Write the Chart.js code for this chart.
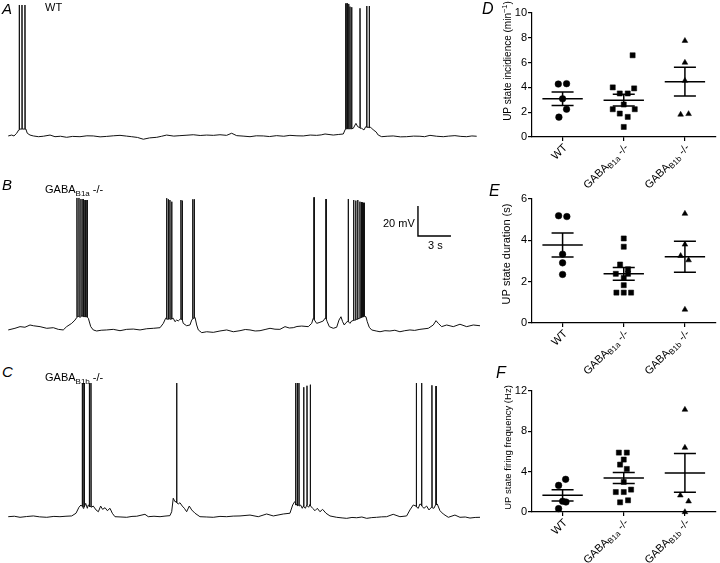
<!DOCTYPE html>
<html>
<head>
<meta charset="utf-8">
<script src="https://cdn.jsdelivr.net/npm/chart.js@4.4.1/dist/chart.umd.min.js"></script>
<style>
  body { margin: 0; background: #fff; }
  #fig { position: relative; width: 720px; height: 563px; overflow: hidden; font-family: "Liberation Sans", Arial, Helvetica, sans-serif; color: #000; }
  #fig canvas { position: absolute; }
  .lbl { position: absolute; line-height: 1; white-space: nowrap; font-size: 11px; }
  .pan { position: absolute; line-height: 1; font-style: italic; }
  .lbl sub { font-size: 8px; vertical-align: -3px; line-height: 0; }
</style>
</head>
<body>
<div id="fig">
  <canvas id="traceA" width="480" height="170" style="left:0;top:0"></canvas>
  <canvas id="traceB" width="480" height="170" style="left:0;top:191px"></canvas>
  <canvas id="traceC" width="480" height="170" style="left:0;top:380px"></canvas>
  <canvas id="incChart" width="240" height="192" style="left:480px;top:0"></canvas>
  <canvas id="durChart" width="240" height="195" style="left:480px;top:185px"></canvas>
  <canvas id="freqChart" width="240" height="188" style="left:480px;top:375px"></canvas>

  <div class="pan" style="left:2px;top:1px;font-size:15px">A</div>
  <div class="lbl" style="left:45px;top:2px">WT</div>
  <div class="pan" style="left:2px;top:177px;font-size:15px">B</div>
  <div class="lbl" style="left:45px;top:184px">GABA<sub>B1a</sub> -/-</div>
  <div class="pan" style="left:2px;top:364px;font-size:15px">C</div>
  <div class="lbl" style="left:45px;top:372px">GABA<sub>B1b</sub> -/-</div>
  <div class="lbl" style="left:383px;top:218px">20 mV</div>
  <div class="lbl" style="left:428px;top:240px">3 s</div>

  <div class="pan" style="left:482px;top:1px;font-size:16px">D</div>
  <div class="pan" style="left:489px;top:183px;font-size:16px">E</div>
  <div class="pan" style="left:496px;top:365px;font-size:16px">F</div>
</div>

<script>
// membrane potential traces: [time (s), Vm (mV)]
const traceWT = [
  [0.75,-69.3],[1.06,-68.7],[1.27,-69.3],[1.52,-67.5],[1.70,-65.3],
  [1.74,-65.3],[1.75,18.0],[1.77,-64.7],
  [1.99,-64.7],[2.00,18.0],[2.02,-64.7],
  [2.26,-64.7],[2.27,18.0],[2.29,-64.7],
  [2.36,-64.9],[2.48,-67.5],[2.73,-68.7],[3.03,-69.3],[3.50,-69.8],[3.94,-69.5],[4.55,-68.7],[5.00,-69.8],[5.50,-69.5],[6.06,-70.2],
  [6.60,-69.6],[7.27,-69.8],[7.90,-69.2],[8.48,-69.3],[9.10,-69.9],[9.70,-69.6],[10.30,-69.2],[10.91,-68.9],[11.50,-69.4],
  [11.97,-69.8],[12.50,-70.3],[13.03,-71.5],[13.60,-70.6],[14.25,-70.2],[14.70,-69.5],[15.15,-68.7],[15.80,-69.4],
  [16.36,-69.1],[17.00,-68.8],[17.57,-68.5],[18.20,-69.0],[18.79,-68.7],[19.40,-68.9],[20.00,-68.5],[20.60,-68.9],
  [21.06,-67.5],[21.52,-69.1],[22.10,-69.4],[22.73,-69.8],[23.30,-69.2],[23.94,-69.3],[24.50,-69.7],
  [25.15,-69.1],[25.80,-69.5],[26.36,-68.9],[27.00,-69.2],[27.57,-69.3],[28.20,-68.7],[28.79,-68.9],[29.20,-68.6],
  [29.55,-68.0],[30.30,-68.7],[30.80,-68.3],[31.21,-68.0],[31.39,-64.9],
  [31.42,-64.9],[31.43,19.1],[31.45,-64.5],
  [31.54,-64.5],[31.55,19.1],[31.57,-64.5],
  [31.69,-64.5],[31.70,18.7],[31.72,-64.5],
  [31.81,-64.5],[31.82,16.9],[31.84,-64.5],
  [31.96,-64.5],[31.97,16.5],[31.99,-64.5],
  [32.12,-64.2],[32.36,-60.9],[32.52,-63.1],
  [32.72,-63.8],[32.73,15.8],[32.75,-64.2],
  [32.88,-64.2],[33.09,-65.3],[33.25,-63.1],
  [33.33,-63.1],[33.34,17.3],[33.36,-63.5],
  [33.56,-63.5],[33.57,17.3],[33.59,-63.8],
  [33.70,-63.5],[33.94,-65.3],[34.18,-66.5],[34.39,-68.7],[34.70,-69.8],[35.20,-69.5],[35.75,-69.3],[36.40,-69.9],
  [36.97,-69.8],[37.60,-69.4],[38.18,-69.5],[38.60,-69.8],[39.09,-68.9],[39.70,-69.5],[40.30,-69.8],[40.80,-69.4],
  [41.36,-69.1],[41.90,-69.6],[42.43,-69.8],[42.90,-69.3],[43.34,-69.5]
];

const traceB1a = [
  [0.75,-71.3],[1.36,-70.2],[1.82,-69.1],[2.27,-69.5],[2.73,-68.0],[3.03,-68.5],[3.64,-69.1],[4.25,-70.2],
  [4.85,-69.8],[5.30,-70.9],[5.75,-71.3],[6.06,-69.1],[6.52,-66.9],[6.82,-64.7],[6.97,-63.1],
  [6.99,-62.5],[7.00,16.7],[7.02,-62.5],
  [7.17,-62.2],[7.18,16.7],[7.20,-62.7],
  [7.35,-62.7],[7.36,16.0],[7.38,-62.0],
  [7.54,-62.0],[7.55,16.0],[7.57,-62.4],
  [7.72,-62.4],[7.73,15.3],[7.75,-62.5],
  [7.90,-62.5],[7.91,15.3],[7.93,-62.7],
  [8.03,-63.5],[8.25,-69.1],[8.48,-71.3],[8.79,-72.0],[9.20,-71.5],[9.70,-71.3],[10.30,-70.9],[10.91,-71.8],[11.52,-70.9],
  [12.12,-70.7],[12.73,-71.3],[13.34,-70.5],[13.94,-70.2],[14.55,-69.8],[14.85,-66.9],[15.06,-63.5],
  [15.14,-64.0],[15.15,16.5],[15.17,-64.0],
  [15.29,-64.2],[15.30,15.8],[15.32,-64.0],
  [15.44,-63.8],[15.45,15.3],[15.47,-64.2],
  [15.60,-64.0],[15.61,14.2],[15.63,-64.0],
  [15.75,-63.5],[15.91,-65.8],[16.06,-64.7],[16.21,-65.3],[16.36,-64.2],
  [16.44,-64.0],[16.45,15.3],[16.47,-64.2],
  [16.56,-64.2],[16.57,14.9],[16.59,-64.7],
  [16.66,-66.9],[16.97,-68.5],[17.27,-68.0],[17.43,-64.7],
  [17.51,-64.0],[17.52,15.8],[17.54,-63.5],
  [17.65,-63.5],[17.66,15.8],[17.68,-63.0],
  [17.73,-62.9],[17.88,-68.0],[18.03,-71.3],[18.34,-73.1],[18.79,-72.5],[19.39,-72.9],[20.00,-72.0],[20.61,-71.3],
  [21.21,-72.5],[21.82,-71.8],[22.30,-71.0],[22.73,-71.3],[23.20,-72.0],[23.64,-71.8],[24.10,-71.0],[24.55,-70.2],
  [25.00,-70.8],[25.45,-70.9],[25.91,-69.1],[26.30,-70.0],[26.66,-69.8],
  [27.00,-69.0],[27.43,-68.7],[28.03,-69.1],[28.34,-66.9],[28.48,-63.5],
  [28.54,-63.3],[28.55,17.1],[28.57,-64.5],
  [28.79,-66.9],[29.09,-66.2],[29.39,-65.3],[29.55,-63.5],
  [29.63,-63.3],[29.64,16.0],[29.66,-64.0],
  [29.75,-65.8],[29.94,-69.1],[30.30,-70.2],[30.61,-69.5],[30.82,-64.7],[31.00,-62.5],[31.15,-65.8],[31.30,-68.0],
  [31.45,-66.5],[31.57,-65.8],
  [31.65,-65.5],[31.66,16.0],[31.68,-65.8],
  [31.82,-66.9],[31.97,-65.3],
  [32.14,-65.0],[32.15,15.3],[32.17,-65.0],
  [32.25,-64.7],
  [32.33,-64.7],[32.34,14.9],[32.36,-64.5],
  [32.43,-64.2],
  [32.51,-64.2],[32.52,15.3],[32.54,-64.0],
  [32.64,-63.5],
  [32.72,-63.3],[32.73,14.2],[32.75,-63.3],
  [32.84,-63.0],[32.85,14.0],[32.87,-63.0],
  [32.93,-62.7],[32.94,13.8],[32.96,-62.7],
  [33.02,-62.5],[33.03,13.5],[33.05,-62.5],
  [33.11,-62.2],[33.12,13.5],[33.14,-62.2],
  [33.27,-62.5],[33.39,-65.8],[33.57,-69.5],[33.79,-71.3],[34.20,-72.0],[34.55,-72.5],[35.00,-71.8],[35.45,-72.0],
  [35.90,-71.5],[36.36,-72.5],[36.80,-71.8],[37.27,-71.3],
  [37.70,-71.6],[38.18,-70.9],[38.94,-70.2],[39.39,-68.0],[39.64,-65.1],[39.85,-66.9],[40.15,-69.1],[40.61,-68.0],[41.21,-69.1],
  [41.82,-67.5],[42.43,-69.1],[43.03,-68.0],[43.64,-68.5]
];

const traceB1b = [
  [0.75,-69.8],[1.30,-69.5],[1.82,-70.2],[2.40,-69.7],[3.03,-69.3],[3.60,-69.9],[4.25,-70.2],[4.90,-69.6],[5.45,-69.8],
  [6.00,-69.5],[6.52,-69.3],[6.91,-67.5],[7.18,-63.5],[7.36,-62.0],
  [7.47,-63.0],[7.48,19.3],[7.50,-62.0],
  [7.57,-64.2],
  [7.63,-62.5],[7.64,19.3],[7.66,-63.3],
  [7.79,-60.9],[7.94,-64.2],[8.03,-62.0],
  [8.11,-62.5],[8.12,19.3],[8.14,-63.0],
  [8.26,-63.0],[8.27,19.3],[8.29,-63.5],
  [8.48,-62.7],[8.73,-65.3],[8.94,-66.5],[9.15,-62.7],[9.33,-64.9],[9.55,-63.8],[9.76,-65.8],[10.00,-64.2],
  [10.21,-67.5],[10.45,-69.8],[11.00,-70.0],[11.52,-70.2],[12.00,-69.6],[12.43,-69.5],[13.18,-68.2],[13.48,-69.8],
  [14.00,-69.5],[14.55,-69.8],[15.00,-69.4],[15.45,-69.1],
  [15.61,-66.5],[15.75,-57.5],[15.91,-59.8],
  [16.05,-59.8],[16.06,19.3],[16.08,-60.5],
  [16.21,-61.3],[16.36,-60.5],[16.57,-62.7],[16.76,-64.2],[16.97,-66.5],[17.21,-62.7],[17.43,-65.3],[17.73,-67.5],
  [18.18,-69.8],[18.80,-70.0],[19.39,-70.2],[20.00,-69.6],[20.61,-69.8],[21.20,-69.4],[21.82,-69.3],[22.73,-68.7],
  [23.48,-69.8],[24.24,-68.0],[24.85,-69.3],
  [25.76,-68.0],[26.36,-67.5],[26.61,-62.0],[26.79,-59.8],
  [26.87,-60.5],[26.88,19.3],[26.90,-62.0],
  [27.02,-61.5],[27.03,19.3],[27.05,-62.5],
  [27.17,-62.0],[27.18,19.3],[27.20,-62.7],
  [27.33,-62.0],[27.48,-64.2],
  [27.60,-62.5],[27.61,16.5],[27.63,-63.0],
  [27.76,-64.2],
  [27.90,-62.0],[27.91,17.5],[27.93,-62.5],
  [28.06,-63.5],
  [28.20,-61.5],[28.21,18.2],[28.23,-62.5],
  [28.42,-64.2],[28.64,-65.8],[28.85,-64.2],[29.09,-66.5],[29.33,-64.9],[29.64,-67.5],[30.00,-69.3],[30.61,-70.2],
  [31.10,-70.6],[31.52,-70.9],[32.00,-70.3],[32.43,-70.5],[32.90,-70.0],[33.34,-70.9],[33.80,-70.4],[34.24,-70.2],
  [34.70,-69.9],[35.15,-69.8],[35.75,-68.2],[36.36,-69.8],[36.97,-69.3],
  [37.27,-65.3],[37.57,-62.0],
  [37.84,-62.7],[37.85,19.3],[37.87,-63.3],
  [38.03,-64.2],[38.18,-61.3],
  [38.32,-62.0],[38.33,19.3],[38.35,-62.7],
  [38.55,-64.2],[38.79,-62.7],[39.00,-65.3],
  [39.26,-63.3],[39.27,17.8],[39.29,-63.8],
  [39.45,-64.2],
  [39.63,-61.5],[39.64,17.3],[39.66,-62.0],
  [39.75,-61.3],[40.00,-65.8],[40.30,-68.0],[40.76,-70.2],[41.36,-68.7],[41.82,-70.2],[42.30,-70.0],[42.73,-70.7],
  [43.20,-70.3],[43.64,-70.2]
];

// scale bar: 20 mV / 3 s
const scaleBarT = [38, 38, 41];
const scaleBarV = [11.3, -8.7, -8.7];

// group summary panels
const groupLabels = [['WT', '', ''], ['GABA', 'B1a', ' -/-'], ['GABA', 'B1b', ' -/-']];
const groupMarkers = ['circle', 'rect', 'triangle'];

const incidence = [
  [4.27, 4.30, 3.08, 2.24, 1.60],
  [6.59, 4.00, 3.51, 3.51, 3.92, 2.62, 2.24, 2.24, 1.89, 1.62, 0.81],
  [7.76, 6.00, 4.54, 1.81, 1.86]
];
const incidenceSpread = [
  [-0.07, 0.065, 0, 0.065, -0.06],
  [0.145, -0.18, -0.065, 0.065, 0.17, 0, -0.18, 0.18, -0.065, 0.065, 0],
  [0, 0, 0, -0.07, 0.06]
];
const incidenceMean = [3.08, 2.97, 4.46];
const incidenceSem = [0.54, 0.47, 1.16];

const duration = [
  [5.19, 5.15, 3.33, 2.91, 2.35],
  [4.09, 3.69, 2.83, 2.60, 2.38, 2.38, 2.18, 1.83, 1.47, 1.47, 1.47],
  [5.29, 3.80, 3.25, 3.04, 0.65]
];
const durationSpread = [
  [-0.065, 0.07, 0, 0, 0],
  [0, 0, -0.06, 0.07, -0.13, 0.07, 0, 0, -0.12, 0, 0.12],
  [0, 0, -0.07, 0.06, 0]
];
const durationMean = [3.77, 2.38, 3.20];
const durationSem = [0.58, 0.31, 0.75];

const frequency = [
  [2.64, 3.24, 1.06, 0.99, 0.33],
  [5.89, 5.89, 5.20, 4.70, 4.27, 2.98, 2.22, 1.98, 1.98, 1.16, 0.96],
  [10.15, 6.38, 1.65, 1.06, 0]
];
const frequencySpread = [
  [-0.065, 0.05, 0, 0.055, -0.065],
  [-0.08, 0.05, 0, -0.06, 0.05, 0, 0.12, -0.13, 0, 0.07, -0.06],
  [0, 0, -0.075, 0.06, 0]
];
const frequencyMean = [1.65, 3.37, 3.87];
const frequencySem = [0.55, 0.54, 1.92];

Chart.defaults.font.family = '"Liberation Sans", Arial, Helvetica, sans-serif';
Chart.defaults.color = '#000';
Chart.defaults.animation = false;

const FONT = '"Liberation Sans", Arial, Helvetica, sans-serif';

// draws [normal, subscript/superscript, normal] text runs
function drawRuns(ctx, parts, big, small, shift, align) {
  const sizes = [big, small, big];
  const widths = parts.map((p, k) => {
    ctx.font = sizes[k] + 'px ' + FONT;
    return ctx.measureText(p).width;
  });
  const total = widths[0] + widths[1] + widths[2];
  let cx = align === 'right' ? -total : -total / 2;
  ctx.textAlign = 'left';
  ctx.textBaseline = 'middle';
  parts.forEach((p, k) => {
    ctx.font = sizes[k] + 'px ' + FONT;
    ctx.fillText(p, cx, k === 1 ? shift : 0);
    cx += widths[k];
  });
}

const panelText = {
  id: 'panelText',
  afterDraw(chart, args, opts) {
    const ctx = chart.ctx;
    const xs = chart.scales.x;
    ctx.save();
    ctx.fillStyle = '#000';
    groupLabels.forEach((parts, i) => {
      ctx.save();
      ctx.translate(xs.getPixelForValue(i) + 3, xs.top + 9);
      ctx.rotate(-Math.PI / 4);
      drawRuns(ctx, parts, 11, 8, 3, 'right');
      ctx.restore();
    });
    ctx.translate(opts.titleX, opts.titleY);
    ctx.rotate(-Math.PI / 2);
    drawRuns(ctx, opts.title, opts.titleSize, opts.titleSize * 0.75, -3, 'center');
    ctx.restore();
  }
};

function renderTrace(id, trace, withBar) {
    const ctx = document.getElementById(id).getContext('2d');
    const datasets = [{
        data: trace.map(p => ({ x: p[0], y: p[1] })),
        showLine: true,
        borderColor: '#111',
        borderWidth: 1,
        pointRadius: 0,
        tension: 0
    }];
    if (withBar) {
        datasets.push({
            data: scaleBarT.map((t, k) => ({ x: t, y: scaleBarV[k] })),
            showLine: true,
            borderColor: '#000',
            borderWidth: 1.4,
            pointRadius: 0
        });
    }
    new Chart(ctx, {
        type: 'scatter',
        data: { datasets },
        options: {
            responsive: false,
            layout: { padding: 0 },
            plugins: { legend: { display: false }, tooltip: { enabled: false } },
            scales: {
                x: { type: 'linear', display: false, min: 0, max: 43.64 },
                y: { type: 'linear', display: false, min: -92, max: 21.33 }
            }
        }
    });
}

function renderGroups(id, values, spread, mean, sem, yMax, yStep, pad, xHeight, title) {
    const ctx = document.getElementById(id).getContext('2d');
    const datasets = values.map((vals, g) => ({
        data: vals.map((v, k) => ({ x: g + spread[g][k], y: v })),
        pointStyle: groupMarkers[g],
        pointRadius: g === 1 ? 3.6 : 3.3,
        pointBackgroundColor: '#000',
        pointBorderColor: '#000',
        pointBorderWidth: 0.5,
        clip: false
    }));
    // mean and SEM bars
    mean.forEach((m, g) => {
        const hi = m + sem[g], lo = m - sem[g];
        datasets.push({
            data: [
                { x: g - 0.33, y: m }, { x: g + 0.33, y: m }, { x: g, y: null },
                { x: g - 0.18, y: hi }, { x: g + 0.18, y: hi }, { x: g, y: null },
                { x: g, y: hi }, { x: g, y: lo }, { x: g, y: null },
                { x: g - 0.18, y: lo }, { x: g + 0.18, y: lo }
            ],
            showLine: true,
            spanGaps: false,
            borderColor: '#000',
            borderWidth: 1.5,
            pointRadius: 0,
            clip: false
        });
    });
    new Chart(ctx, {
        type: 'scatter',
        data: { datasets },
        plugins: [panelText],
        options: {
            responsive: false,
            layout: { padding: { top: pad, left: 0, right: 2, bottom: 0 } },
            plugins: {
                legend: { display: false },
                tooltip: { enabled: false },
                panelText: title
            },
            scales: {
                x: {
                    type: 'linear', min: -0.5, max: 2.5,
                    afterBuildTicks: s => { s.ticks = [0, 1, 2].map(v => ({ value: v })); },
                    afterFit: s => { s.height = xHeight; },
                    ticks: { callback: () => '', maxRotation: 0 },
                    grid: { display: true, drawOnChartArea: false, drawTicks: true, tickLength: 4, color: '#000', lineWidth: 1.2 },
                    border: { display: true, color: '#000', width: 1.2 }
                },
                y: {
                    type: 'linear', min: 0, max: yMax,
                    afterFit: s => { s.width = 52; },
                    ticks: { stepSize: yStep, padding: 1, font: { size: 11 }, color: '#000' },
                    grid: { display: true, drawOnChartArea: false, drawTicks: true, tickLength: 4, color: '#000', lineWidth: 1.2 },
                    border: { display: true, color: '#000', width: 1.2 }
                }
            }
        }
    });
}

renderTrace('traceA', traceWT, false);
renderTrace('traceB', traceB1a, true);
renderTrace('traceC', traceB1b, false);

renderGroups('incChart', incidence, incidenceSpread, incidenceMean, incidenceSem, 10, 2, 13, 55,
    { title: ['UP state incidience (min', '\u22121', ')'], titleX: 28, titleY: 61, titleSize: 10 });
renderGroups('durChart', duration, durationSpread, durationMean, durationSem, 6, 2, 14, 57,
    { title: ['UP state duration (s)', '', ''], titleX: 27, titleY: 69, titleSize: 11 });
renderGroups('freqChart', frequency, frequencySpread, frequencyMean, frequencySem, 12, 4, 16, 51,
    { title: ['UP state firing frequency (Hz)', '', ''], titleX: 28, titleY: 72.5, titleSize: 9.5 });
</script>
</body>
</html>
